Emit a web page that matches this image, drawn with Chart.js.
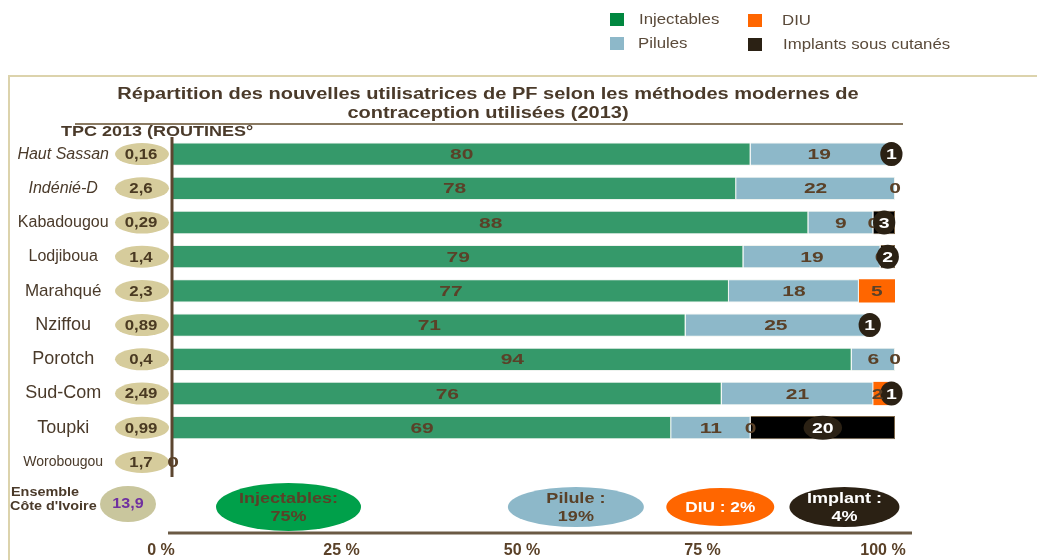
<!DOCTYPE html>
<html><head><meta charset="utf-8">
<script src="https://cdn.jsdelivr.net/npm/chart.js@4"></script>
<style>html,body{margin:0;padding:0;background:#fff;overflow:hidden}canvas{display:block}</style>
</head><body>
<canvas id="c" width="1037" height="560"></canvas>
<script>
// ---- data ----
const categories = ['Haut Sassan','Indénié-D','Kabadougou','Lodjiboua','Marahqué','Nziffou','Porotch','Sud-Com','Toupki','Worobougou'];
const tpc = ['0,16','2,6','0,29','1,4','2,3','0,89','0,4','2,49','0,99','1,7'];
const injectables = [80,78,88,79,77,71,94,76,69,0];
const pilules = [19,22,9,19,18,25,6,21,11,0];
const diu = [0,0,0,0,5,0,0,2,0,0];
const implants = [1,0,3,2,0,1,0,1,20,0];
const xTicks = [0,25,50,75,100];
const seriesNames = ['Injectables','Pilules','DIU','Implants sous cutanés'];
const ensembleTpc = '13,9';
const ensembleMethods = ['Injectables:','Pilule :','DIU :','Implant :'];
const ensembleShares = [75,19,2,4];
const titleLines = ['Répartition des nouvelles utilisatrices de PF selon les méthodes modernes de','contraception utilisées (2013)'];
const tpcHeader = 'TPC 2013 (ROUTINES°';
const ensembleLabel = ['Ensemble','Côte d\'Ivoire'];

// ---- style ----
const F = '"Liberation Sans", Arial, sans-serif';
const BROWN = '#5a4128';
const TXT = '#4a3a2a';
const barColors = ['#35996a','#8db8c9','#ff6600','#000000'];
const legendColors = ['#00873f','#8db8c9','#ff6600','#2b2114'];
const catFonts = [
  {size:16, style:'italic'},{size:16, style:'italic'},{size:16},{size:16},{size:17},
  {size:18},{size:18},{size:18},{size:18},{size:14}
];
const ensLayout = [
  {cx:16, w:145, h:48, fill:'#00a04a', color:BROWN},
  {cx:55.8, w:136, h:40, fill:'#8db8c9', color:BROWN},
  {cx:75.8, w:108, h:38, fill:'#ff6600', color:'#ffffff', oneLine:true},
  {cx:93, w:110, h:40, fill:'#2b2114', color:'#ffffff'}
];

function ellipse(ctx, cx, cy, rx, ry, fill){
  ctx.beginPath(); ctx.ellipse(cx, cy, rx, ry, 0, 0, Math.PI*2); ctx.fillStyle = fill; ctx.fill();
}
function sText(ctx, t, x, y, sx){
  ctx.save(); ctx.translate(x, y); ctx.scale(sx, 1); ctx.fillText(t, 0, 0); ctx.restore();
}

const deco = {
  id:'deco',
  beforeDraw(chart){
    const ctx = chart.ctx;
    ctx.save();
    ctx.fillStyle = '#fff'; ctx.fillRect(0,0,chart.width,chart.height);
    ctx.strokeStyle = '#dcd3ac'; ctx.lineWidth = 2;
    ctx.beginPath(); ctx.moveTo(9,560); ctx.lineTo(9,76); ctx.lineTo(1037,76); ctx.stroke();
    // legend
    ctx.font = '14px ' + F; ctx.textBaseline = 'middle'; ctx.textAlign = 'left';
    const lp = [[610,19],[610,43],[748,20],[748,44]];
    const tx = [639,638,782,783];
    seriesNames.forEach((n,i)=>{
      ctx.fillStyle = legendColors[i];
      ctx.fillRect(lp[i][0], lp[i][1]-6, 14, 13);
      ctx.fillStyle = '#5a4a3a';
      sText(ctx, n, tx[i], lp[i][1]+1, 1.2);
    });
    // title
    ctx.fillStyle = TXT; ctx.textAlign = 'center';
    ctx.font = 'bold 16px ' + F;
    sText(ctx, titleLines[0], 488, 95, 1.25);
    sText(ctx, titleLines[1], 488, 114, 1.25);
    ctx.strokeStyle = '#8a7a62'; ctx.lineWidth = 2;
    ctx.beginPath(); ctx.moveTo(75,124); ctx.lineTo(903,124); ctx.stroke();
    ctx.textAlign = 'left'; ctx.font = 'bold 15px ' + F;
    sText(ctx, tpcHeader, 61, 132, 1.2);
    ctx.restore();
  },
  afterDatasetsDraw(chart){
    const ctx = chart.ctx;
    const xs = chart.scales.x, ys = chart.scales.y, ca = chart.chartArea;
    ctx.save();
    // vertical axis line over the bars
    ctx.strokeStyle = '#5c4630'; ctx.lineWidth = 3;
    ctx.beginPath(); ctx.moveTo(ca.left - 1, ca.top); ctx.lineTo(ca.left - 1, ca.bottom - 2); ctx.stroke();
    ctx.textAlign = 'center'; ctx.textBaseline = 'middle';
    // TPC ellipses
    categories.forEach((c,j)=>{
      const y = ys.getPixelForValue(j);
      ellipse(ctx, 142, y, 27, 11, '#d6cc9c');
      ctx.fillStyle = '#4a3a22'; ctx.font = 'bold 14px ' + F;
      sText(ctx, tpc[j], 141, y+1, 1.2);
    });
    // segment labels: pass 0 = injectables/pilules + DIU zeros, pass 1 = implant ellipses, pass 2 = DIU values
    const pos = (i,j) => { const b = chart.getDatasetMeta(i).data[j]; return [(b.x + b.base)/2, b.y]; };
    ctx.font = 'bold 15px ' + F;
    [0,1,2].forEach(pass=>{
      chart.data.datasets.forEach((ds,i)=>{
        ds.data.forEach((v,j)=>{
          const [cx, cy] = pos(i,j);
          ctx.font = 'bold 15px ' + F;
          if (pass === 0 && i < 2 && v > 0) { ctx.fillStyle = BROWN; sText(ctx, String(v), cx, cy+1, 1.4); }
          if (pass === 0 && i === 2 && v === 0) { ctx.fillStyle = BROWN; sText(ctx, String(v), cx, cy+1, 1.4); }
          if (pass === 1 && i === 3 && v > 0) {
            const tw = ctx.measureText(String(v)).width * 1.3;
            ellipse(ctx, cx, cy, tw*0.75 + 3, 12, '#2b2114');
            ctx.fillStyle = '#fff'; sText(ctx, String(v), cx, cy+1, 1.3);
          }
          if (pass === 2 && i === 2 && v > 0) { ctx.fillStyle = BROWN; sText(ctx, String(v), cx - (i===2 && v<3 ? 3 : 0), cy+1, 1.4); }
        });
      });
    });
    // ensemble row
    const ey = ca.bottom + 28;
    ctx.fillStyle = TXT; ctx.textAlign = 'left'; ctx.font = 'bold 12px ' + F;
    sText(ctx, ensembleLabel[0], 11, ey-14, 1.2);
    sText(ctx, ensembleLabel[1], 10, ey, 1.2);
    ellipse(ctx, 128, ey-3, 28, 18, '#c9c69d');
    ctx.textAlign = 'center'; ctx.fillStyle = '#7030a0'; ctx.font = 'bold 14px ' + F;
    sText(ctx, ensembleTpc, 128, ey-3, 1.15);
    ensLayout.forEach((L,k)=>{
      const cx = xs.getPixelForValue(L.cx);
      ellipse(ctx, cx, ey, L.w/2, L.h/2, L.fill);
      ctx.fillStyle = L.color; ctx.font = 'bold 15px ' + F;
      if (L.oneLine) sText(ctx, ensembleMethods[k] + ' ' + ensembleShares[k] + '%', cx, ey+1, 1.15);
      else {
        sText(ctx, ensembleMethods[k], cx, ey-8, 1.2);
        sText(ctx, ensembleShares[k] + '%', cx, ey+10, 1.2);
      }
    });
    ctx.strokeStyle = '#6b5a44'; ctx.lineWidth = 3;
    ctx.beginPath(); ctx.moveTo(168, ey+26); ctx.lineTo(912, ey+26); ctx.stroke();
    ctx.restore();
  }
};

new Chart(document.getElementById('c'), {
  type:'bar',
  data:{
    labels: categories,
    datasets:[
      {label:seriesNames[0], data:injectables, backgroundColor:barColors[0], borderColor:'#eef3ef', borderWidth:1},
      {label:seriesNames[1], data:pilules, backgroundColor:barColors[1], borderColor:'#eef3ef', borderWidth:1},
      {label:seriesNames[2], data:diu, backgroundColor:barColors[2], borderColor:'#ffffff', borderWidth:0},
      {label:seriesNames[3], data:implants, backgroundColor:barColors[3], borderColor:'#7a6446', borderWidth:1}
    ]
  },
  options:{
    responsive:false, animation:false, indexAxis:'y',
    barPercentage:0.68, categoryPercentage:1,
    layout:{padding:{left:10, right:142, top:137, bottom:1}},
    plugins:{legend:{display:false}, title:{display:false}, tooltip:{enabled:false}},
    scales:{
      x:{
        stacked:true, min:0, max:100,
        afterBuildTicks: s => { s.ticks = xTicks.map(v=>({value:v})); },
        afterFit: s => { s.height = 80; },
        grid:{display:false, drawTicks:false}, border:{display:false},
        ticks:{padding:62, labelOffset:-12, color:BROWN, font:{family:F, size:16, weight:'bold'}, callback:v=>v+' %'}
      },
      y:{
        stacked:true,
        afterFit: s => { s.width = 163; },
        grid:{display:false, drawTicks:false},
        border:{display:false},
        ticks:{crossAlign:'center', padding:64, color:TXT,
          font: ctx => Object.assign({family:F, weight:'normal'}, catFonts[ctx.index] || {size:14})}
      }
    }
  },
  plugins:[deco]
});
</script>
</body></html>
